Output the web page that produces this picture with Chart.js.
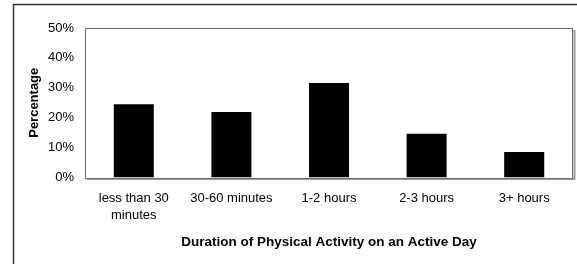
<!DOCTYPE html>
<html>
<head>
<meta charset="utf-8">
<script src="https://cdn.jsdelivr.net/npm/chart.js@4/dist/chart.umd.min.js"></script>
<style>
  html, body { margin: 0; padding: 0; background: #fff; }
  #wrap { width: 577px; height: 264px; position: relative; }
</style>
</head>
<body>
<div id="wrap"><canvas id="c" width="577" height="264"></canvas></div>
<script>
const categories = [["less than 30", "minutes"], "30-60 minutes", "1-2 hours", "2-3 hours", "3+ hours"];
const percentages = [24.5, 21.9, 31.6, 14.6, 8.5];
const yTickValues = [0, 10, 20, 30, 40, 50];
const xTitle = "Duration of Physical Activity on an Active Day";
const yTitle = "Percentage";

const FONT = "'Liberation Sans', Arial, sans-serif";

const framePlugin = {
  id: 'frame',
  afterDraw(chart) {
    const ctx = chart.ctx;
    const a = chart.chartArea;
    ctx.save();
    // outer frame (left + top)
    ctx.strokeStyle = '#333';
    ctx.lineWidth = 1.5;
    ctx.beginPath();
    ctx.moveTo(13.5, 264);
    ctx.lineTo(13.5, 4.5);
    ctx.lineTo(577, 4.5);
    ctx.stroke();
    // plot area shadow
    ctx.strokeStyle = '#9a9a9a';
    ctx.lineWidth = 2;
    ctx.beginPath();
    ctx.moveTo(a.left + 2, a.bottom + 1.5);
    ctx.lineTo(a.right + 1.5, a.bottom + 1.5);
    ctx.lineTo(a.right + 1.5, a.top + 2);
    ctx.stroke();
    // plot area border
    ctx.strokeStyle = '#6e6e6e';
    ctx.lineWidth = 1;
    ctx.strokeRect(Math.round(a.left) + 0.5, Math.round(a.top) + 0.5,
                   Math.round(a.right - a.left) - 1, Math.round(a.bottom - a.top));
    ctx.restore();
  }
};

new Chart(document.getElementById('c'), {
  type: 'bar',
  data: {
    labels: categories,
    datasets: [{
      data: percentages,
      backgroundColor: '#000',
      borderWidth: 0,
      barPercentage: 0.41,
      categoryPercentage: 1.0
    }]
  },
  options: {
    responsive: false,
    animation: false,
    devicePixelRatio: 1,
    layout: { padding: { left: 27, right: 4, top: 28, bottom: 14 } },
    plugins: { legend: { display: false }, tooltip: { enabled: false } },
    scales: {
      x: {
        grid: { display: false, drawTicks: false },
        border: { display: false },
        ticks: {
          color: '#000',
          font: { family: FONT, size: 13, lineHeight: 1.35 },
          padding: 12,
          maxRotation: 0,
          autoSkip: false
        },
        title: {
          display: true,
          text: xTitle,
          color: '#000',
          font: { family: FONT, size: 13.5, weight: 'bold' },
          padding: 0
        },
        afterFit(s) { s.height = 72.5; }
      },
      y: {
        min: 0,
        max: 50,
        afterBuildTicks(s) { s.ticks = yTickValues.map(v => ({ value: v })); },
        grid: { display: false, drawTicks: false },
        border: { display: false },
        ticks: {
          color: '#000',
          font: { family: FONT, size: 13 },
          padding: 11,
          callback: v => v + '%'
        },
        title: {
          display: true,
          text: yTitle,
          color: '#000',
          font: { family: FONT, size: 13, weight: 'bold' },
          padding: 0
        },
        afterFit(s) { s.width = 58; }
      }
    }
  },
  plugins: [framePlugin]
});
</script>
</body>
</html>
